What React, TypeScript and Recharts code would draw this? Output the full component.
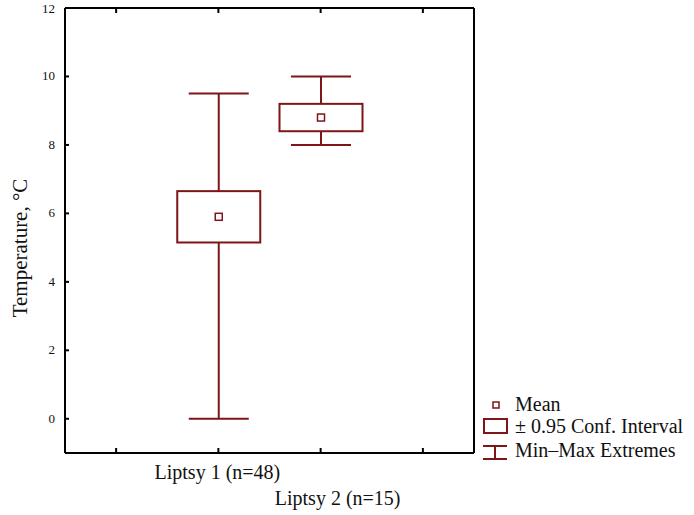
import React from "react";
import {
  Bar,
  CartesianGrid,
  ComposedChart,
  Legend,
  XAxis,
  YAxis,
} from "recharts";

// slots 1 and 4 stay empty, like the original plot
const CATEGORIES = ["", "Liptsy 1 (n=48)", "Liptsy 2 (n=15)", " "];
const MIN_VALUES = [null, 0, 8, null];
const MAX_VALUES = [null, 9.5, 10, null];
const CI_LOW = [null, 5.15, 8.4, null];
const CI_HIGH = [null, 6.65, 9.2, null];
const MEANS = [null, 5.9, 8.8, null];
const Y_TICKS = [0, 2, 4, 6, 8, 10, 12];

const RED = "#7e1518";
const INK = "#111";
const FONT = '"Liberation Serif", "Times New Roman", serif';

const chartData = CATEGORIES.map((name, i) => ({
  name,
  min: MIN_VALUES[i],
  max: MAX_VALUES[i],
  ciLow: CI_LOW[i],
  ciHigh: CI_HIGH[i],
  mean: MEANS[i],
  range: MIN_VALUES[i] != null ? [MIN_VALUES[i], MAX_VALUES[i]] : null,
}));

function BoxShape(props: any) {
  const { x, y, width, height, payload } = props;
  if (!payload || payload.range == null) return null;
  const top = Math.min(y, y + height);
  const h = Math.abs(height);
  const span = payload.max - payload.min;
  const toPx = (v: number) => top + ((payload.max - v) / span) * h;
  const cx = x + width / 2;
  const capW = 60;
  const boxTop = toPx(payload.ciHigh);
  const boxBottom = toPx(payload.ciLow);
  const my = toPx(payload.mean);
  return (
    <g>
      <line x1={cx} x2={cx} y1={top} y2={top + h} stroke={RED} strokeWidth={2} />
      <line x1={cx - capW / 2} x2={cx + capW / 2} y1={top} y2={top} stroke={RED} strokeWidth={2} />
      <line x1={cx - capW / 2} x2={cx + capW / 2} y1={top + h} y2={top + h} stroke={RED} strokeWidth={2} />
      <rect
        x={x}
        y={boxTop}
        width={width}
        height={boxBottom - boxTop}
        fill="#fff"
        stroke={RED}
        strokeWidth={2}
      />
      <rect x={cx - 3.5} y={my - 3.5} width={7} height={7} fill="#fff" stroke={RED} strokeWidth={1.5} />
    </g>
  );
}

// labels are staggered: the second one sits a row lower and a bit to the right
function CategoryTick(props: any) {
  const { x, y, payload, index } = props;
  if (!payload.value || !payload.value.trim()) return null;
  const dy = index === 1 ? 26 : 52;
  const dx = index === 1 ? -1 : 17;
  return (
    <text x={x + dx} y={y + dy} textAnchor="middle" fontFamily={FONT} fontSize={20} fill={INK}>
      {payload.value}
    </text>
  );
}

function ValueTick(props: any) {
  const { x, y, payload } = props;
  return (
    <text x={x} y={y} dy={4} textAnchor="end" fontFamily={FONT} fontSize={13} fill={INK}>
      {payload.value}
    </text>
  );
}

function NoTick() {
  return null;
}

function AxisTitle() {
  return (
    <text
      transform="translate(27,248) rotate(-90)"
      textAnchor="middle"
      fontFamily={FONT}
      fontSize={21}
      fill={INK}
    >
      Temperature, °C
    </text>
  );
}

function LegendBox() {
  const tx = 37;
  return (
    <svg width={216} height={75} style={{ display: "block" }}>
      <rect x={15} y={9} width={6} height={6} fill="#fff" stroke={RED} strokeWidth={1.5} />
      <text x={tx} y={18} fontFamily={FONT} fontSize={20} fill={INK}>
        Mean
      </text>
      <rect x={6} y={26} width={23} height={14} fill="#fff" stroke={RED} strokeWidth={2} />
      <text x={tx} y={40} fontFamily={FONT} fontSize={20} fill={INK}>
        ± 0.95 Conf. Interval
      </text>
      <line x1={5} x2={29} y1={53} y2={53} stroke={RED} strokeWidth={2} />
      <line x1={17} x2={17} y1={53} y2={66} stroke={RED} strokeWidth={2} />
      <line x1={5} x2={29} y1={66} y2={66} stroke={RED} strokeWidth={2} />
      <text x={tx} y={64} fontFamily={FONT} fontSize={20} fill={INK}>
        Min–Max Extremes
      </text>
    </svg>
  );
}

export default function App() {
  return (
    <div style={{ position: "absolute", left: 0, top: 0, width: 694, height: 515, background: "#fff" }}>
      <ComposedChart
        width={694}
        height={515}
        data={chartData}
        margin={{ top: 7, right: 219, bottom: 12, left: 20 }}
      >
        <CartesianGrid vertical={false} stroke="#c4c4c4" strokeWidth={1} />
        <XAxis
          dataKey="name"
          xAxisId="bottom"
          height={50}
          tickSize={-5}
          tickMargin={5}
          tick={<CategoryTick />}
          interval={0}
          axisLine={{ stroke: "#000", strokeWidth: 2 }}
          tickLine={{ stroke: "#000", strokeWidth: 2 }}
        />
        <XAxis
          dataKey="name"
          xAxisId="top"
          orientation="top"
          height={1}
          tickSize={-5}
          tick={NoTick}
          interval={0}
          axisLine={{ stroke: "#000", strokeWidth: 2 }}
          tickLine={{ stroke: "#000", strokeWidth: 2 }}
        />
        <YAxis
          yAxisId="left"
          type="number"
          domain={[-1, 12]}
          ticks={Y_TICKS}
          width={45}
          tickSize={-4}
          tickMargin={14}
          tick={<ValueTick />}
          axisLine={{ stroke: "#000", strokeWidth: 2 }}
          tickLine={{ stroke: "#000", strokeWidth: 2 }}
          label={{ content: <AxisTitle /> }}
        />
        <YAxis
          yAxisId="right"
          orientation="right"
          type="number"
          domain={[-1, 12]}
          ticks={Y_TICKS}
          width={1}
          tickSize={-4}
          tick={NoTick}
          axisLine={{ stroke: "#000", strokeWidth: 2 }}
          tickLine={{ stroke: "#000", strokeWidth: 2 }}
        />
        <Bar
          dataKey="range"
          xAxisId="bottom"
          yAxisId="left"
          barSize={83}
          shape={<BoxShape />}
          isAnimationActive={false}
        />
        <Legend
          layout="vertical"
          align="center"
          verticalAlign="middle"
          content={<LegendBox />}
          wrapperStyle={{ left: 478, top: 393, width: 216, height: 75 }}
        />
      </ComposedChart>
    </div>
  );
}
